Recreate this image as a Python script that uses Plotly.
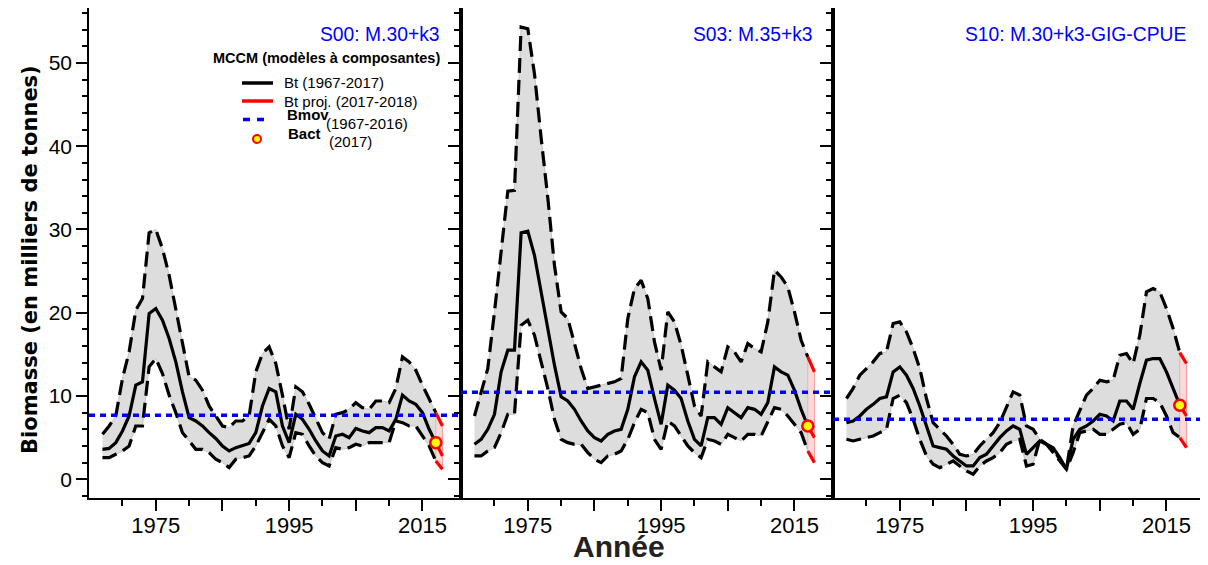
import plotly.graph_objects as go
from plotly.subplots import make_subplots

# ---------------- data ----------------
years = list(range(1967, 2018))
proj_years = [2017, 2018]

panel_titles = ["S00: M.30+k3", "S03: M.35+k3", "S10: M.30+k3-GIG-CPUE"]

s00_med = [3.6, 3.7, 4.4, 5.8, 7.6, 11.3, 11.7, 19.9, 20.5, 19.1,
           16.9, 14.1, 10.5, 7.4, 7.0, 6.4, 5.6, 4.9, 4.0, 3.4,
           3.8, 4.1, 4.3, 5.6, 8.8, 10.9, 10.5, 6.4, 4.4, 7.8,
           7.2, 6.0, 4.6, 3.4, 2.8, 5.2, 5.4, 5.0, 6.1, 5.8,
           5.6, 6.2, 6.2, 5.8, 7.2, 10.1, 9.4, 9.0, 8.0, 6.0,
           4.4]
s00_upp = [5.4, 6.4, 7.6, 12.1, 15.3, 20.3, 21.7, 29.6, 30.0, 27.7,
           24.5, 20.5, 16.1, 12.3, 11.9, 10.7, 8.8, 7.6, 6.4, 6.2,
           7.0, 7.0, 7.6, 12.9, 15.1, 15.9, 13.9, 10.1, 6.0, 11.1,
           10.5, 9.0, 7.2, 5.6, 4.8, 7.8, 8.0, 8.4, 9.2, 8.6,
           8.4, 9.4, 9.4, 9.2, 10.9, 14.7, 14.1, 13.1, 11.3, 9.7,
           8.0]
s00_low = [2.6, 2.6, 3.0, 3.4, 4.0, 6.4, 6.4, 13.5, 14.5, 12.7,
           10.1, 8.0, 5.6, 4.6, 3.6, 3.6, 3.2, 2.4, 2.0, 1.4,
           2.4, 2.6, 2.8, 4.0, 5.6, 7.2, 6.4, 4.0, 2.6, 5.6,
           5.4, 4.0, 2.8, 2.0, 1.6, 3.8, 3.6, 3.8, 4.2, 4.0,
           4.4, 4.4, 4.4, 4.4, 7.0, 6.8, 6.4, 6.4, 5.2, 4.0,
           2.2]
s00_proj_med = [4.4, 2.8]
s00_proj_upp = [8.0, 6.4]
s00_proj_low = [2.2, 1.2]
s00_bmov = 7.7

s03_med = [4.2, 4.8, 6.0, 7.8, 12.9, 15.5, 15.5, 29.6, 29.8, 26.9,
           22.5, 18.1, 13.7, 9.9, 9.4, 8.4, 7.0, 5.8, 5.0, 4.6,
           5.4, 5.8, 6.0, 8.4, 12.3, 14.1, 13.1, 9.7, 6.6, 11.3,
           10.7, 9.7, 7.0, 4.8, 4.0, 7.4, 7.4, 6.6, 8.6, 8.0,
           7.4, 8.6, 8.4, 7.8, 9.2, 13.5, 12.9, 12.5, 10.7, 8.4,
           6.4]
s03_upp = [7.6, 10.5, 13.3, 20.1, 27.3, 34.6, 34.7, 54.3, 54.1, 48.7,
           41.0, 33.8, 25.7, 20.1, 19.3, 16.1, 13.3, 10.9, 11.1, 11.3,
           11.5, 11.7, 12.1, 19.3, 22.9, 23.9, 21.7, 16.5, 13.1, 20.1,
           18.9, 16.1, 12.5, 8.8, 7.6, 14.1, 13.5, 12.9, 15.9, 15.3,
           14.1, 16.3, 15.7, 15.3, 18.9, 25.1, 24.3, 23.1, 20.1, 16.7,
           14.7]
s03_low = [2.8, 2.8, 3.4, 3.8, 5.6, 7.8, 7.8, 18.5, 19.1, 17.3,
           14.1, 10.9, 7.2, 4.8, 4.4, 4.2, 4.2, 3.2, 2.4, 2.0,
           2.8, 3.0, 3.4, 4.8, 6.8, 8.4, 8.0, 4.8, 3.6, 7.0,
           6.4, 5.2, 4.0, 3.2, 2.6, 4.8, 4.6, 4.2, 5.4, 5.0,
           4.6, 5.4, 5.4, 5.2, 6.8, 8.6, 8.4, 7.6, 6.6, 5.6,
           3.4]
s03_proj_med = [6.4, 5.0]
s03_proj_upp = [14.7, 12.9]
s03_proj_low = [3.4, 2.0]
s03_bmov = 10.45

s10_med = [6.8, 7.0, 7.6, 8.4, 9.0, 9.7, 9.9, 12.9, 13.5, 12.5,
           10.9, 8.8, 6.4, 4.0, 3.8, 3.6, 2.8, 2.2, 1.6, 1.6,
           2.6, 3.0, 4.0, 5.0, 5.8, 6.4, 6.0, 3.0, 3.8, 4.6,
           4.2, 3.8, 2.6, 1.2, 4.8, 6.0, 6.4, 7.0, 7.8, 7.6,
           7.0, 9.4, 9.4, 8.4, 11.5, 14.3, 14.5, 14.5, 12.9, 10.9,
           8.9]
s10_upp = [9.7, 10.9, 12.5, 13.3, 14.1, 15.1, 15.3, 18.7, 18.9, 17.7,
           15.7, 13.3, 9.7, 6.8, 6.0, 5.2, 4.2, 3.0, 2.8, 3.0,
           4.0, 4.8, 5.6, 6.8, 8.6, 10.5, 10.1, 6.4, 6.0, 4.8,
           4.2, 3.6, 2.4, 1.2, 6.4, 8.2, 10.1, 10.9, 11.9, 11.7,
           11.9, 14.9, 15.1, 13.9, 17.3, 22.5, 22.9, 22.5, 20.5, 18.1,
           15.2]
s10_low = [4.8, 4.6, 4.8, 5.0, 5.2, 5.6, 6.0, 9.7, 10.1, 9.2,
           7.2, 4.8, 2.8, 1.8, 1.4, 1.8, 2.2, 1.6, 1.0, 0.6,
           1.6, 2.2, 2.6, 3.2, 4.2, 4.6, 4.8, 1.6, 1.8, 4.8,
           4.2, 3.2, 2.2, 1.2, 3.2, 5.6, 5.8, 6.0, 5.4, 5.4,
           6.0, 6.6, 6.8, 5.4, 6.0, 9.7, 9.7, 9.2, 7.6, 5.6,
           5.0]
s10_proj_med = [8.9, 7.6]
s10_proj_upp = [15.2, 13.9]
s10_proj_low = [5.0, 3.8]
s10_bmov = 7.2

x_major_ticks = [1975, 1985, 1995, 2005, 2015]
x_major_labels = ["1975", "", "1995", "", "2015"]
x_minor_ticks = [1970, 1980, 1990, 2000, 2010]

panels = [
    (panel_titles[0], s00_med, s00_upp, s00_low, s00_proj_med, s00_proj_upp, s00_proj_low, s00_bmov),
    (panel_titles[1], s03_med, s03_upp, s03_low, s03_proj_med, s03_proj_upp, s03_proj_low, s03_bmov),
    (panel_titles[2], s10_med, s10_upp, s10_low, s10_proj_med, s10_proj_upp, s10_proj_low, s10_bmov),
]

# ---------------- figure ----------------
# the page body has an 8px margin, so the figure starts at (8, 8) in the window
OFF = 8
W, H = 1200, 557
ML, MR, MT, MB = 81, 3, 0, 67
PW, PH = W - ML - MR, H - MT - MB


def px2x(px):
    """window pixel x -> paper x"""
    return (px - OFF - ML) / PW


def py2y(py):
    """window pixel y -> paper y"""
    return (H - MB - (py - OFF)) / PH


FONT = "Liberation Sans, Arial, sans-serif"
DASH_BLACK = "15px,7px"
DASH_BLUE = "6px,5px"

fig = make_subplots(rows=1, cols=3, horizontal_spacing=0)

for i, (title, med, upp, low, pmed, pupp, plow, bmov) in enumerate(panels, start=1):
    fig.add_trace(go.Scatter(x=years + years[::-1], y=upp + low[::-1], fill="toself",
                             fillcolor="#DDDDDD", line=dict(color="#C4C4C4", width=1),
                             mode="lines", hoverinfo="skip"), row=1, col=i)
    fig.add_trace(go.Scatter(x=proj_years + proj_years[::-1], y=pupp + plow[::-1], fill="toself",
                             fillcolor="rgba(255,170,170,0.45)", line=dict(color="rgba(240,150,150,0.9)", width=1),
                             mode="lines", hoverinfo="skip"), row=1, col=i)
    fig.add_trace(go.Scatter(x=years, y=upp, mode="lines",
                             line=dict(color="black", width=3.2, dash=DASH_BLACK)), row=1, col=i)
    fig.add_trace(go.Scatter(x=years, y=low, mode="lines",
                             line=dict(color="black", width=3.2, dash=DASH_BLACK)), row=1, col=i)
    fig.add_trace(go.Scatter(x=years, y=med, mode="lines",
                             line=dict(color="black", width=3.2)), row=1, col=i)
    for arr in (pupp, plow, pmed):
        fig.add_trace(go.Scatter(x=proj_years, y=arr, mode="lines",
                                 line=dict(color="red", width=3.2)), row=1, col=i)
    fig.add_hline(y=bmov, line=dict(color="#0000FF", width=3.5, dash=DASH_BLUE), row=1, col=i)
    fig.add_trace(go.Scatter(x=[years[-1]], y=[med[-1]], mode="markers",
                             marker=dict(size=11, color="yellow", line=dict(color="red", width=2.5))),
                  row=1, col=i)

    fig.update_xaxes(range=[1964.98, 2020.78], tickmode="array", tickvals=x_major_ticks,
                     ticktext=x_major_labels, ticks="outside", ticklen=11, tickwidth=1.5,
                     tickcolor="black", ticklabelstandoff=-4,
                     minor=dict(tickmode="array", tickvals=x_minor_ticks, ticks="outside",
                                ticklen=6, tickwidth=1.5, tickcolor="black"),
                     showline=True, mirror=True, linecolor="black", linewidth=1.5,
                     showgrid=False, zeroline=False, automargin=False,
                     tickfont=dict(family=FONT, size=22, color="black"), row=1, col=i)
    fig.update_yaxes(range=[-2.25, 56.6], tick0=0, dtick=10, ticks="outside", ticklen=11,
                     tickwidth=1.5, tickcolor="black",
                     minor=dict(tick0=0, dtick=2, ticks="outside", ticklen=5, tickwidth=1.5,
                                tickcolor="black"),
                     showline=True, mirror=True, linecolor="black", linewidth=1.5,
                     showgrid=False, zeroline=False, showticklabels=(i == 1), automargin=False,
                     tickfont=dict(family=FONT, size=21, color="black"), row=1, col=i)

title_right_px = [442, 815, 1188]
for t, rx in zip(panel_titles, title_right_px):
    fig.add_annotation(text=t, xref="paper", yref="paper", x=px2x(rx), y=py2y(35),
                       xanchor="right", yanchor="middle", showarrow=False,
                       font=dict(family=FONT, size=19.3, color="#0000FF"))

fig.add_annotation(text="<b>MCCM (modèles à composantes)</b>", xref="paper", yref="paper",
                   x=px2x(326), y=py2y(58), xanchor="center", yanchor="middle", showarrow=False,
                   font=dict(family=FONT, size=14.5, color="black"))
legend_texts = [
    ("Bt (1967-2017)", 282, 83),
    ("Bt proj. (2017-2018)", 282, 101),
    ("<b>Bmov</b>", 285, 115),
    ("(1967-2016)", 324, 123),
    ("<b>Bact</b>", 286, 134),
    ("(2017)", 327, 142),
]
for txt, lx, ly in legend_texts:
    fig.add_annotation(text=txt, xref="paper", yref="paper", x=px2x(lx), y=py2y(ly),
                       xanchor="left", yanchor="middle", showarrow=False,
                       font=dict(family=FONT, size=15, color="black"))
fig.add_shape(type="line", xref="paper", yref="paper", x0=px2x(242), x1=px2x(273),
              y0=py2y(83), y1=py2y(83), line=dict(color="black", width=3.5))
fig.add_shape(type="line", xref="paper", yref="paper", x0=px2x(242), x1=px2x(273),
              y0=py2y(101), y1=py2y(101), line=dict(color="red", width=3.5))
fig.add_shape(type="line", xref="paper", yref="paper", x0=px2x(243), x1=px2x(264),
              y0=py2y(119.5), y1=py2y(119.5), line=dict(color="#0000FF", width=3.5, dash="7px,7px"))
fig.add_shape(type="circle", xref="paper", yref="paper", xsizemode="pixel", ysizemode="pixel",
              xanchor=px2x(257), yanchor=py2y(139), x0=-4, x1=4, y0=-4, y1=4,
              fillcolor="yellow", line=dict(color="red", width=2))

fig.add_annotation(text="<b>Biomasse (en milliers de tonnes)</b>", xref="paper", yref="paper",
                   x=px2x(30), y=py2y(260), xanchor="center", yanchor="middle", textangle=-90,
                   showarrow=False, font=dict(family="DejaVu Sans", size=21, color="black"))
fig.add_annotation(text="<b>Année</b>", xref="paper", yref="paper",
                   x=px2x(619), y=py2y(546), xanchor="center", yanchor="middle",
                   showarrow=False, font=dict(family=FONT, size=30, color="#222222"))

fig.update_layout(width=W, height=H, margin=dict(l=ML, r=MR, t=MT, b=MB, autoexpand=False),
                  plot_bgcolor="white", paper_bgcolor="white", showlegend=False,
                  hovermode=False, font=dict(family=FONT, color="black"))

fig.write_html("out.html")
